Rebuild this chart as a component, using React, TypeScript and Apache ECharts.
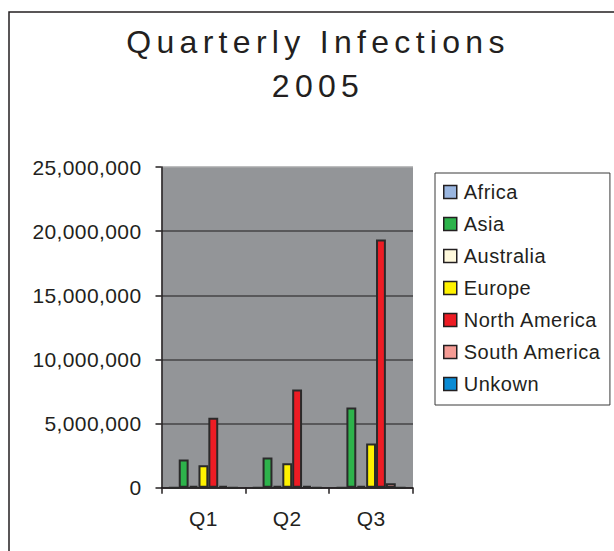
import React, { useEffect, useRef } from "react";
import * as echarts from "echarts";

// Quarterly infection counts by region, 2005
const quarters = ["Q1", "Q2", "Q3"];
const regions = ["Africa", "Asia", "Australia", "Europe", "North America", "South America", "Unkown"];
const africa = [0, 0, 0];
const asia = [2200000, 2350000, 6250000];
const australia = [150000, 150000, 150000];
const europe = [1750000, 1900000, 3450000];
const northAmerica = [5450000, 7650000, 19350000];
const southAmerica = [150000, 150000, 350000];
const unknown = [0, 0, 0];
const yTicks = [0, 5000000, 10000000, 15000000, 20000000, 25000000];

const regionColors = ["#9ab6e0", "#2db34b", "#fff9dc", "#fff200", "#ed1c24", "#f59b94", "#0a8bd4"];
const regionValues = [africa, asia, australia, europe, northAmerica, southAmerica, unknown];

const FONT = "'Liberation Sans', Arial, sans-serif";

export default function App() {
  const ref = useRef<HTMLDivElement>(null);

  useEffect(() => {
    if (!ref.current) return;
    const chart = echarts.init(ref.current, undefined, { renderer: "svg" });
    chart.setOption({
      animation: false,
      backgroundColor: "#ffffff",
      textStyle: { fontFamily: FONT },
      title: {
        text: "Quarterly Infections\n2005",
        left: 318,
        top: 20,
        textAlign: "center",
        padding: 0,
        textStyle: {
          fontFamily: FONT,
          fontSize: 32,
          fontWeight: "normal",
          color: "#231f20",
          lineHeight: 44,
        },
      },
      graphic: [
        {
          type: "rect",
          shape: { x: 9, y: 12, width: 700, height: 700 },
          style: { fill: "none", stroke: "#231f20", lineWidth: 1.5 },
          silent: true,
          z: -1,
        },
      ],
      legend: {
        orient: "vertical",
        left: 435,
        top: 173,
        padding: [9, 15, 11, 8],
        itemWidth: 13,
        itemHeight: 13,
        itemGap: 12,
        borderColor: "#3a3a3a",
        borderWidth: 1,
        icon: "rect",
        selectedMode: false,
        itemStyle: { borderColor: "#231f20", borderWidth: 1.5 },
        textStyle: { fontFamily: FONT, fontSize: 20, lineHeight: 20, color: "#231f20", padding: [0, 0, 0, 2] },
        data: regions,
      },
      grid: {
        left: 161.5,
        top: 167,
        width: 251.5,
        height: 320.7,
        show: true,
        backgroundColor: "#939598",
        borderWidth: 0,
      },
      xAxis: {
        type: "category",
        data: quarters,
        axisLine: { show: true, lineStyle: { color: "#231f20", width: 1.5 } },
        axisTick: { show: true, length: 6, lineStyle: { color: "#231f20", width: 1.5 } },
        axisLabel: { fontFamily: FONT, fontSize: 21, color: "#231f20", margin: 20 },
        splitLine: { show: false },
      },
      yAxis: {
        type: "value",
        min: yTicks[0],
        max: yTicks[yTicks.length - 1],
        interval: yTicks[1] - yTicks[0],
        axisLine: { show: true, lineStyle: { color: "#231f20", width: 1.5 } },
        axisTick: { show: true, length: 6, lineStyle: { color: "#231f20", width: 1.5 } },
        axisLabel: {
          fontFamily: FONT,
          fontSize: 21,
          color: "#231f20",
          margin: 20,
          formatter: (v: number) => v.toLocaleString("en-US"),
        },
        splitLine: {
          show: true,
          lineStyle: {
            color: ["#231f20", "#444446", "#444446", "#444446", "#444446", "#a7a8aa"],
            width: 1.5,
          },
        },
      },
      series: regions.map((name, i) => ({
        name,
        type: "bar",
        data: regionValues[i],
        barGap: "0%",
        barCategoryGap: "17.6%",
        itemStyle: {
          color: regionColors[i],
          borderColor: "#2a2a2a",
          borderWidth: 2,
        },
      })),
    });
    return () => chart.dispose();
  }, []);

  return (
    <>
      <style>{`
        body { margin: 0; }
        #chart text[style*="32px"] { letter-spacing: 5.3px; }
        #chart text[style*="21px"] { letter-spacing: 0.4px; }
        #chart text[style*="20px"] { letter-spacing: 0.5px; }
      `}</style>
      <div id="chart" ref={ref} style={{ position: "absolute", left: 0, top: 0, width: 614, height: 551 }} />
    </>
  );
}
